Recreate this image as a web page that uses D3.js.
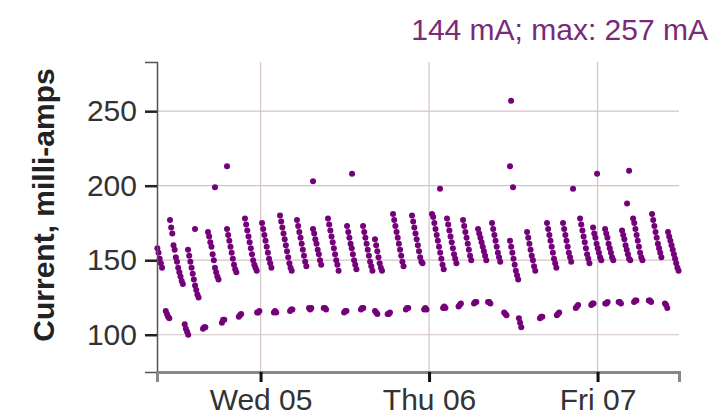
<!DOCTYPE html>
<html lang="en">
<head>
<meta charset="UTF-8">
<title>Current, milli-amps</title>
<script src="https://d3js.org/d3.v7.min.js"></script>
<style>
  body { margin: 0; background: #fff; }
  svg { display: block; font-family: "Liberation Sans", Arial, sans-serif; }
  .grid line { stroke: #d3c3c7; stroke-width: 1.2; }
  .dot { fill: #74007a; }
  .axis text { font-size: 30px; fill: #333; font-family: "Liberation Sans", Arial, sans-serif; }
</style>
</head>
<body>
<svg width="717" height="418"></svg>
<script>
// hours are counted from Tue 04 00:00
const dayStart = Date.UTC(2019, 5, 4);
const viewHours = [9.25, 83.6];
const yDomain = [75, 283];
const yTicks = [100, 150, 200, 250];
const dayTickHours = [24, 48, 72];
const dayLabels = ["Wed 05", "Thu 06", "Fri 07"];
const stepHours = 1 / 6; // 10 min between readings
const titleText = "144 mA; max: 257 mA";

// upper band: each discharge run as [start hour, readings in mA]
const runs = [
  [9.30, [158, 155, 151, 148, 145]],
  [11.10, [177, 172, 168, 160, 157, 152, 149, 145, 142, 139, 136, 134]],
  [13.67, [157, 153, 149, 145, 141, 137, 133, 130, 127, 125]],
  [16.51, [169, 166, 162, 159, 154, 150, 145, 142, 139, 137]],
  [19.22, [171, 167, 163, 159, 155, 151, 147, 144, 142]],
  [21.78, [178, 174, 170, 166, 162, 158, 154, 150, 147, 145, 143]],
  [24.21, [175, 171, 167, 163, 159, 155, 151, 148, 145]],
  [26.77, [180, 176, 172, 168, 164, 160, 156, 152, 148, 145, 143]],
  [29.19, [177, 173, 169, 165, 161, 157, 153, 149, 146]],
  [31.47, [171, 168, 164, 161, 157, 154, 150, 147]],
  [33.61, [178, 174, 170, 166, 162, 158, 154, 150, 147, 143]],
  [36.32, [173, 169, 165, 161, 158, 154, 150, 147, 144]],
  [38.60, [173, 169, 165, 161, 157, 153, 149, 146, 143]],
  [40.30, [164, 160, 156, 152, 148, 145, 143]],
  [42.87, [181, 177, 173, 169, 165, 161, 157, 153, 149, 146]],
  [45.57, [180, 176, 172, 168, 164, 160, 156, 152, 149, 148]],
  [48.42, [181, 179, 175, 171, 167, 163, 159, 155, 151, 147, 144]],
  [50.56, [178, 174, 170, 166, 162, 158, 154, 151, 148]],
  [52.84, [177, 173, 169, 165, 161, 157, 153, 150]],
  [54.98, [171, 168, 165, 162, 159, 156, 153, 150]],
  [56.97, [175, 171, 167, 163, 159, 155, 152, 149]],
  [59.53, [163, 159, 155, 151, 147, 143, 140, 137]],
  [61.96, [169, 165, 161, 157, 153, 150, 146, 143]],
  [64.80, [175, 171, 167, 163, 159, 155, 151, 148, 145]],
  [67.08, [175, 171, 167, 163, 159, 155, 152, 149]],
  [69.51, [178, 174, 170, 166, 162, 158, 154, 151, 148]],
  [71.36, [172, 168, 165, 161, 158, 155, 152, 150]],
  [73.07, [171, 168, 165, 161, 158, 155, 152, 150]],
  [75.49, [170, 167, 164, 160, 157, 154, 151, 150]],
  [77.06, [178, 175, 171, 167, 163, 159, 155, 152, 150]],
  [79.76, [181, 177, 173, 169, 165, 161, 158, 155, 152]],
  [82.04, [169, 166, 163, 160, 157, 154, 151, 148, 145, 143]]
];

// lower band: idle readings as [start hour, readings in mA]
const idle = [
  [10.5, [116, 114, 112, 111]],
  [13.2, [107, 104, 102, 100]],
  [15.8, [104, 105, 105]],
  [18.5, [108, 110, 110]],
  [20.9, [112, 113, 114]],
  [23.5, [115, 115, 116]],
  [25.9, [115, 116, 115]],
  [28.2, [116, 117, 117]],
  [30.9, [118, 117, 118]],
  [33.0, [118, 118, 117]],
  [35.9, [115, 116, 116]],
  [38.3, [117, 118, 118]],
  [40.3, [116, 115, 114]],
  [42.1, [114, 114, 115]],
  [44.7, [117, 118, 118]],
  [47.3, [117, 118, 117]],
  [50.0, [118, 119, 118]],
  [52.2, [119, 120, 121]],
  [54.4, [121, 122, 122]],
  [56.4, [122, 122, 121]],
  [58.7, [115, 114, 113]],
  [60.8, [111, 108, 105]],
  [63.8, [111, 112, 112]],
  [66.2, [113, 114, 115]],
  [68.9, [118, 119, 120]],
  [71.1, [120, 121, 121]],
  [73.1, [121, 121, 122]],
  [75.0, [122, 122, 121]],
  [77.2, [122, 123, 123]],
  [79.3, [123, 123, 122]],
  [81.6, [121, 120, 118]]
];

// single high readings
const spikes = [
  [14.66, 171], [17.51, 199], [19.22, 213], [31.47, 203], [37.03, 208],
  [49.56, 198], [59.53, 213], [59.68, 257], [59.96, 199], [68.51, 198],
  [71.93, 208], [76.20, 188], [76.49, 210]
];

const toDate = h => new Date(dayStart + h * 3600e3);

const svg = d3.select("svg");
const plotLeft = 157, plotRight = 679, plotTop = 62, plotBottom = 372;

const x = d3.scaleUtc()
  .domain(viewHours.map(toDate))
  .range([plotLeft, plotRight]);

const y = d3.scaleLinear()
  .domain(yDomain)
  .range([plotBottom, plotTop]);

// grid
const grid = svg.append("g").attr("class", "grid");
grid.selectAll(".hg")
  .data(yTicks)
  .enter()
  .append("line")
  .attr("x1", plotLeft)
  .attr("x2", plotRight)
  .attr("y1", d => y(d))
  .attr("y2", d => y(d));

grid.selectAll(".vg")
  .data(dayTickHours)
  .enter()
  .append("line")
  .attr("x1", d => x(toDate(d)))
  .attr("x2", d => x(toDate(d)))
  .attr("y1", plotTop)
  .attr("y2", plotBottom);

// flatten readings
const expand = list => list.flatMap(([h, vals]) =>
  vals.map((v, i) => ({ h: h + i * stepHours, v })));

const points = [
  ...expand(runs),
  ...expand(idle),
  ...spikes.map(([h, v]) => ({ h, v }))
];

svg.append("g")
  .selectAll("circle")
  .data(points)
  .enter()
  .append("circle")
  .attr("class", "dot")
  .attr("cx", d => x(toDate(d.h)))
  .attr("cy", d => y(d.v))
  .attr("r", 3);

// axes
const yAxis = svg.append("g")
  .attr("class", "axis")
  .attr("transform", `translate(${plotLeft},0)`)
  .call(d3.axisLeft(y).tickValues(yTicks).tickSize(12).tickSizeOuter(12).tickPadding(8));
yAxis.select(".domain").attr("stroke", "#555").attr("stroke-width", 1.5);
yAxis.selectAll(".tick line").attr("stroke", "#222").attr("stroke-width", 2.5);

const xAxis = svg.append("g")
  .attr("class", "axis")
  .attr("transform", `translate(0,${plotBottom})`)
  .call(d3.axisBottom(x)
    .tickValues(dayTickHours.map(toDate))
    .tickFormat((d, i) => dayLabels[i])
    .tickSize(10)
    .tickSizeOuter(10)
    .tickPadding(7));
xAxis.select(".domain").attr("stroke", "#888").attr("stroke-width", 3);
xAxis.selectAll(".tick line").attr("stroke", "#111").attr("stroke-width", 3);

// titles
svg.append("text")
  .attr("x", 708)
  .attr("y", 40)
  .attr("text-anchor", "end")
  .attr("font-size", 30)
  .attr("fill", "#7a2a7a")
  .text(titleText);

svg.append("text")
  .attr("transform", `translate(54,205) rotate(-90)`)
  .attr("text-anchor", "middle")
  .attr("font-size", 30)
  .attr("font-weight", "bold")
  .attr("fill", "#222")
  .text("Current, milli-amps");
</script>
</body>
</html>
